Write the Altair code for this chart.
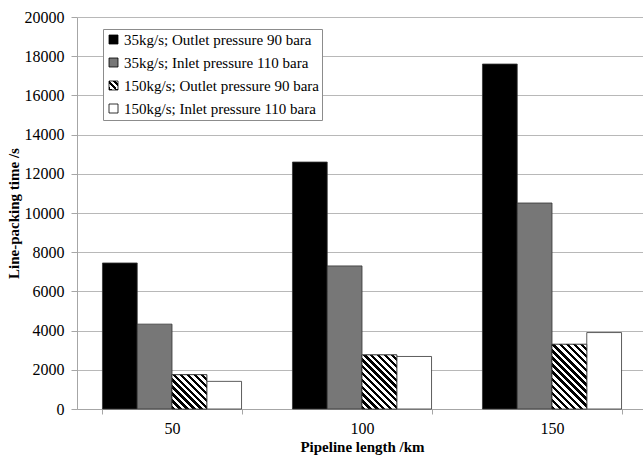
import json
import altair as alt
import pandas as pd

# ---- data ----
lengths = ["50", "100", "150"]
series = [
    "35kg/s; Outlet pressure 90 bara",
    "35kg/s; Inlet pressure 110 bara",
    "150kg/s; Outlet pressure 90 bara",
    "150kg/s; Inlet pressure 110 bara",
]
out35 = [7450, 12600, 17600]
in35 = [4330, 7300, 10510]
out150 = [1750, 2760, 3300]
in150 = [1410, 2680, 3900]
values = [out35, in35, out150, in150]

rows = []
for s, vals in zip(series, values):
    for L, v in zip(lengths, vals):
        rows.append({"length": L, "series": s, "time": v})
df = pd.DataFrame(rows)

# ---- layout ----
W, H = 566, 392
RANGE_W = 570
YMAX = 20000
P_IN = 0.268
FONT = "Liberation Serif"

step = RANGE_W / (len(lengths) - P_IN + 2 * P_IN / 2)
bar_w = step * (1 - P_IN) / len(series)


def hatch(w, h, period=7.0):
    n = max(1, round((w + h) / period))
    c = (1 / h + 1 / w) / (1 / h ** 2 + 1 / w ** 2)
    stops = []
    for i in range(n):
        stops.append({"offset": i / n, "color": "#000000"})
        stops.append({"offset": (i + 0.5) / n, "color": "#000000"})
        stops.append({"offset": (i + 0.5) / n, "color": "#ffffff"})
        stops.append({"offset": (i + 1) / n, "color": "#ffffff"})
    return {"gradient": "linear", "x1": 0, "y1": 1, "x2": c / h, "y2": 1 - c / w, "stops": stops}


legend_hatch = hatch(9, 9, 6.0)

x_enc = alt.X(
    "length:N",
    sort=lengths,
    scale=alt.Scale(domain=lengths, range=[0, RANGE_W], paddingInner=P_IN, paddingOuter=P_IN / 2),
    axis=alt.Axis(
        title="Pipeline length /km",
        labelAngle=0,
        tickBand="extent",
        tickSize=5,
        labelPadding=6,
        titlePadding=3,
        titleX=RANGE_W / 2,
        domainColor="#a6a6a6",
        tickColor="#a6a6a6",
        grid=False,
    ),
)
xo_enc = alt.XOffset("series:N", sort=series, scale=alt.Scale(domain=series, paddingInner=0, paddingOuter=0))
y_enc = alt.Y(
    "time:Q",
    scale=alt.Scale(domain=[0, YMAX], nice=False),
    axis=alt.Axis(
        title="Line-packing time /s",
        values=list(range(0, YMAX + 1, 2000)),
        format="d",
        tickSize=6,
        labelPadding=7,
        titlePadding=3,
        gridColor="#b8b8b8",
        domainColor="#a6a6a6",
        tickColor="#a6a6a6",
    ),
)

base = alt.Chart(df).mark_bar(stroke="#333333", strokeWidth=0.8).encode(
    x=x_enc,
    xOffset=xo_enc,
    y=y_enc,
    fill=alt.Fill(
        "series:N",
        sort=series,
        scale=alt.Scale(
            domain=series,
            range=["#000000", "#777777", alt.ExprRef(json.dumps(legend_hatch)), "#ffffff"],
        ),
        legend=alt.Legend(
            title=None,
            orient="none",
            legendX=26,
            legendY=12,
            symbolType="square",
            symbolSize=81,
            symbolStrokeColor="#000000",
            symbolStrokeWidth=0.8,
            labelFont=FONT,
            labelFontSize=15,
            labelColor="#000000",
            labelOffset=3,
            rowPadding=7,
            padding=3,
            strokeColor="#8c8c8c",
            fillColor="#ffffff",
            labelLimit=400,
        ),
    ),
)

layers = [base]
for L, v in zip(lengths, out150):
    h = v / YMAX * H
    layers.append(
        alt.Chart(df)
        .transform_filter((alt.datum.series == series[2]) & (alt.datum.length == L))
        .mark_bar(stroke="#333333", strokeWidth=0.8)
        .encode(x=x_enc, xOffset=xo_enc, y=y_enc, fill=alt.value(hatch(bar_w, h)))
    )

chart = (
    alt.layer(*layers)
    .properties(
        width=W,
        height=H,
        autosize=alt.AutoSizeParams(type="none"),
        padding={"left": 77, "top": 17, "right": 0, "bottom": 46},
        background="#ffffff",
    )
    .configure_view(stroke=None)
    .configure_axis(
        labelFont=FONT,
        labelFontSize=16,
        labelColor="#000000",
        titleFont=FONT,
        titleFontSize=15,
        titleFontWeight="bold",
        titleColor="#000000",
    )
)

chart.save("out.html", embed_options={"renderer": "svg", "actions": False})
